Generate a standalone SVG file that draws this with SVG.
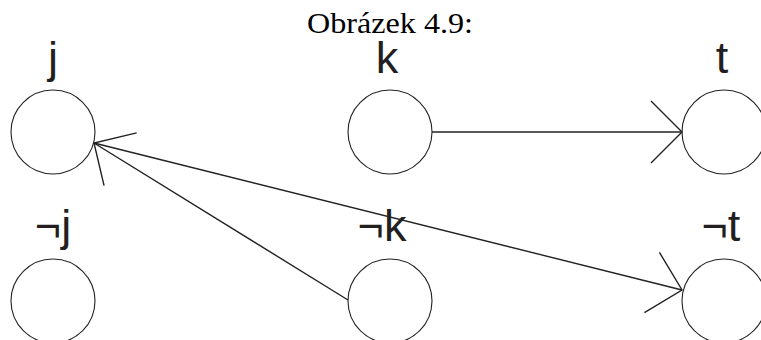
<svg xmlns="http://www.w3.org/2000/svg" width="761" height="340" viewBox="0 0 761 340">
<style>
.node circle{fill:none;stroke:#222;stroke-width:1.1}
.lbl{font-family:"Liberation Sans",Arial,sans-serif;font-size:45px;fill:#231f20;text-anchor:middle}
.title{font-family:"Liberation Serif","DejaVu Serif",serif;font-size:30px;fill:#000;text-anchor:middle}
.edge{fill:none;stroke:#222;stroke-width:1.4}
</style>
<defs>
<marker id="vh" markerUnits="userSpaceOnUse" markerWidth="80" markerHeight="80" refX="0" refY="0" viewBox="-40 -40 80 80" orient="auto" overflow="visible">
<path d="M-31,-31 L0,0 L-31,31" fill="none" stroke="#222" stroke-width="1.4"/>
</marker>
</defs>
<rect width="761" height="340" fill="#fff"/>
<text class="title" x="390" y="33" textLength="166" lengthAdjust="spacingAndGlyphs">Obrázek 4.9:</text>
<g id="node-j" class="node"><circle cx="53" cy="132" r="42"/><text class="lbl" x="53" y="73">j</text></g>
<g id="node-k" class="node"><circle cx="390" cy="132" r="42"/><text class="lbl" x="387" y="73">k</text></g>
<g id="node-t" class="node"><circle cx="724" cy="132" r="42"/><text class="lbl" x="722" y="73">t</text></g>
<g id="node-nj" class="node"><circle cx="53" cy="301" r="42"/><text class="lbl" x="53" y="241">¬j</text></g>
<g id="node-nk" class="node"><circle cx="390" cy="301" r="42"/><text class="lbl" x="382" y="241">¬k</text></g>
<g id="node-nt" class="node"><circle cx="724" cy="301" r="42"/><text class="lbl" x="721" y="241">¬t</text></g>
<g id="connectors">
<line class="edge" x1="432" y1="132" x2="682" y2="132" marker-end="url(#vh)"/>
<line class="edge" x1="348" y1="300" x2="94" y2="143" marker-end="url(#vh)"/>
<line class="edge" x1="94" y1="143" x2="682" y2="290" marker-end="url(#vh)"/>
</g>
</svg>
